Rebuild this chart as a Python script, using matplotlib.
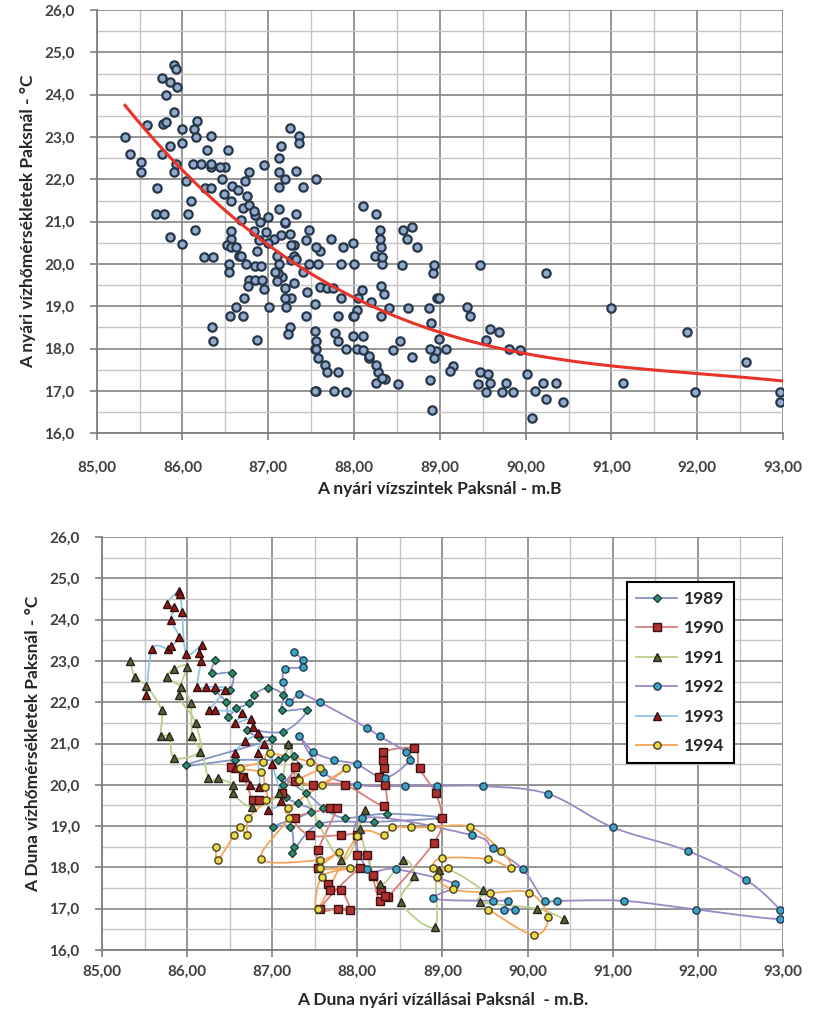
import numpy as np
import matplotlib
matplotlib.use('Agg')
import matplotlib.pyplot as plt
from matplotlib.ticker import MultipleLocator, FuncFormatter
from matplotlib.lines import Line2D

# Nyári vízállás (m.B.) és vízhőmérséklet (°C) Paksnál, évenként
x_1989 = [86.33, 86.29, 86.53, 86.50, 86.33, 86.46, 86.48, 86.58, 86.73, 86.78, 86.95,
          87.13, 87.12, 87.41, 87.13, 86.70, 86.85, 87.00, 85.99, 86.56, 87.07, 87.15,
          87.19, 87.25, 87.30, 87.13, 87.16, 87.30, 87.45, 87.01, 87.21, 87.25, 87.23,
          87.55, 88.20, 88.97, 88.35, 87.85, 87.60, 87.40, 87.10]
y_1989 = [23.02, 22.70, 22.70, 22.30, 22.30, 22.00, 21.65, 21.85, 21.97, 22.17, 22.35,
          22.17, 21.81, 21.81, 21.29, 21.33, 21.16, 21.10, 20.48, 20.60, 20.60, 20.68,
          20.96, 20.70, 20.45, 20.00, 19.70, 19.55, 19.35, 18.99, 18.99, 18.50, 18.35,
          19.05, 19.10, 19.20, 19.30, 19.20, 19.45, 19.80, 20.20]

x_1990 = [86.52, 86.66, 86.77, 86.85, 87.11, 87.27, 87.27, 87.48, 87.85, 88.31, 88.32,
          88.25, 88.31, 88.30, 88.30, 88.67, 88.73, 88.92, 88.99, 88.90, 88.36, 88.26,
          88.18, 88.11, 87.99, 87.99, 87.81, 87.44, 87.27, 87.68, 87.76, 87.54, 87.54,
          87.66, 87.68, 87.81, 87.91, 87.77, 87.56, 88.03, 88.18, 88.28, 88.33]
y_1990 = [20.44, 20.20, 19.63, 19.63, 19.79, 20.44, 20.10, 20.00, 20.00, 19.49, 20.00,
          20.20, 20.40, 20.60, 20.80, 20.88, 20.40, 19.79, 19.19, 18.60, 17.29, 17.19,
          17.79, 18.30, 18.30, 18.78, 18.78, 18.78, 19.19, 19.43, 19.43, 18.42, 17.98,
          17.61, 17.45, 17.45, 16.98, 17.00, 17.00, 17.98, 17.82, 17.45, 17.30]

x_1991 = [85.33, 85.39, 85.52, 85.70, 85.69, 85.79, 85.85, 86.15, 86.06, 86.04, 85.93,
          85.76, 85.85, 86.00, 85.90, 86.10, 86.25, 86.36, 86.54, 86.54, 86.76, 87.08,
          87.19, 87.30, 87.81, 88.09, 88.03, 88.26, 88.54, 88.67, 88.51, 88.91, 88.96,
          89.47, 89.44, 90.11, 90.43]
y_1991 = [23.00, 22.60, 22.40, 21.80, 21.19, 21.19, 20.65, 20.80, 21.19, 21.97, 22.37,
          22.60, 22.80, 22.86, 22.17, 21.50, 20.16, 20.16, 20.00, 19.80, 19.47, 19.80,
          21.00, 20.20, 18.18, 19.39, 18.92, 17.61, 18.18, 17.80, 17.17, 16.56, 17.94,
          17.45, 17.17, 17.00, 16.75]

x_1992 = [87.25, 87.36, 87.36, 87.15, 87.13, 87.20, 87.32, 87.56, 88.11, 88.26, 88.57,
          88.62, 88.32, 87.99, 87.73, 87.48, 87.32, 87.60, 88.00, 88.56, 88.93, 89.47,
          90.24, 91.00, 91.88, 92.57, 92.96, 92.96, 91.98, 91.13, 90.35, 90.20, 89.94,
          89.59, 89.35, 88.05, 88.11, 88.45, 89.15, 88.89, 89.59, 89.77, 89.72, 89.85]
y_1992 = [23.22, 23.02, 22.85, 22.80, 22.50, 22.00, 22.20, 22.00, 21.38, 21.18, 20.80,
          20.60, 20.17, 20.50, 20.60, 20.80, 21.19, 20.30, 20.00, 19.97, 19.97, 19.97,
          19.78, 18.97, 18.40, 17.69, 16.98, 16.75, 16.98, 17.19, 17.19, 17.19, 17.96,
          18.46, 18.78, 19.19, 17.96, 17.96, 17.59, 17.25, 17.19, 17.19, 16.98, 16.98]

x_1993 = [85.52, 85.59, 85.77, 85.81, 85.90, 85.81, 85.85, 85.76, 85.90, 85.92, 85.94,
          85.99, 86.17, 86.14, 86.16, 86.12, 86.22, 86.33, 86.44, 86.26, 86.33, 86.65,
          86.56, 86.75, 86.77, 86.83, 86.68, 86.56, 86.56, 86.68, 86.74, 86.85, 86.83,
          86.90, 87.00, 87.10, 86.95]
y_1993 = [22.17, 23.29, 23.30, 23.35, 23.59, 24.00, 24.30, 24.39, 24.70, 24.62, 24.19,
          23.18, 23.38, 23.20, 23.00, 22.37, 22.37, 22.37, 22.30, 21.80, 21.80, 21.75,
          21.50, 21.60, 21.40, 21.25, 21.05, 20.77, 20.40, 20.20, 20.00, 19.95, 20.78,
          21.00, 20.50, 19.60, 19.40]

x_1994 = [86.34, 86.36, 86.55, 86.62, 86.70, 86.72, 86.93, 86.91, 86.87, 86.62, 86.89,
          86.97, 87.44, 87.56, 87.32, 87.58, 87.87, 87.19, 87.20, 86.87, 87.56, 87.78,
          87.56, 87.91, 87.58, 87.54, 88.00, 88.31, 88.41, 88.63, 88.87, 89.32, 89.69,
          89.81, 89.54, 88.99, 88.89, 89.07, 88.93, 89.12, 89.56, 90.02, 90.24, 90.07,
          89.54]
y_1994 = [18.50, 18.18, 18.78, 18.99, 18.78, 19.19, 19.63, 19.95, 20.30, 20.40, 20.56,
          20.76, 20.56, 20.40, 20.12, 20.00, 20.40, 19.43, 19.20, 18.20, 18.18, 18.38,
          17.98, 17.98, 17.77, 17.00, 18.76, 18.78, 18.97, 18.97, 18.97, 18.98, 18.40,
          17.98, 18.20, 18.22, 17.98, 17.98, 17.77, 17.47, 17.39, 17.39, 16.80, 16.36,
          16.98]

years = ['1989', '1990', '1991', '1992', '1993', '1994']
x_series = [x_1989, x_1990, x_1991, x_1992, x_1993, x_1994]
y_series = [y_1989, y_1990, y_1991, y_1992, y_1993, y_1994]

# harmadfokú trend a (vízszint - 85) függvényében
trend_coef = [-0.01735, 0.3670, -2.7484, 24.6176]
trend_x_range = [85.33, 93.0]

# vonal / jelölő stílusok évenként
styles = {
    '1989': dict(lc='#8594c6', m='D', fc='#2e8b72', ec='#1c3f36', ms=4.5),
    '1990': dict(lc='#d9807c', m='s', fc='#b0302e', ec='#3a1010', ms=5.2),
    '1991': dict(lc='#b9d08a', m='^', fc='#5a5f35', ec='#26261a', ms=5.6),
    '1992': dict(lc='#9c88c4', m='o', fc='#3ea3c3', ec='#1d3c52', ms=5.2),
    '1993': dict(lc='#8fc6e0', m='^', fc='#8a1c1c', ec='#3a0a0a', ms=5.6),
    '1994': dict(lc='#f3a65a', m='o', fc='#e9da45', ec='#4a4020', ms=5.2),
}

FONT = 'Lato'
TICK_COLOR = '#404040'


def smooth(xs, ys, steps=10):
    """Catmull-Rom görbe a pontokon át (az Excel simított vonalához hasonló)"""
    p = np.column_stack([xs, ys])
    p = np.vstack([p[0], p, p[-1]])
    t = np.linspace(0, 1, steps, endpoint=False)[:, None]
    parts = []
    for i in range(1, len(p) - 2):
        p0, p1, p2, p3 = p[i - 1], p[i], p[i + 1], p[i + 2]
        seg = 0.5 * (2 * p1 + (-p0 + p2) * t
                     + (2 * p0 - 5 * p1 + 4 * p2 - p3) * t ** 2
                     + (-p0 + 3 * p1 - 3 * p2 + p3) * t ** 3)
        parts.append(seg)
    parts.append(p[-2][None, :])
    arr = np.vstack(parts)
    return arr[:, 0], arr[:, 1]


def style_axes(ax, xlabel, ylabel, xpad, xlabelpad):
    ax.set_xlim(85, 93)
    ax.set_ylim(16, 26)
    ax.xaxis.set_major_locator(MultipleLocator(1))
    ax.xaxis.set_minor_locator(MultipleLocator(0.5))
    ax.yaxis.set_major_locator(MultipleLocator(1))
    ax.yaxis.set_minor_locator(MultipleLocator(0.5))
    ax.xaxis.set_major_formatter(FuncFormatter(lambda v, p: f'{v:.2f}'.replace('.', ',')))
    ax.yaxis.set_major_formatter(FuncFormatter(lambda v, p: f'{v:.1f}'.replace('.', ',')))
    ax.grid(True, which='major', color='#8c8c8c', linewidth=1.3)
    ax.grid(True, which='minor', color='#c4c4c4', linewidth=1.0)
    ax.set_axisbelow(True)
    for side in ('top', 'right'):
        ax.spines[side].set_visible(False)
    for side in ('left', 'bottom'):
        ax.spines[side].set_color('#7f7f7f')
        ax.spines[side].set_linewidth(1.3)
    ax.tick_params(which='major', direction='out', length=5, width=1.2, color='#7f7f7f',
                   labelsize=11, labelcolor=TICK_COLOR)
    ax.tick_params(axis='y', which='major', pad=11)
    ax.tick_params(axis='x', which='major', pad=xpad)
    ax.tick_params(which='minor', length=0)
    for lab in ax.get_xticklabels() + ax.get_yticklabels():
        lab.set_fontfamily(FONT)
        lab.set_fontweight('bold')
    ax.set_xlabel(xlabel, fontsize=12.5, fontweight='bold', family=FONT, color='#262626',
                  labelpad=xlabelpad)
    ax.set_ylabel(ylabel, fontsize=12.5, fontweight='bold', family=FONT, color='#262626',
                  labelpad=6)


fig = plt.figure(figsize=(8.18, 10.17), dpi=100)
ax1 = fig.add_axes([0.1182, 0.574, 0.839, 0.416])
ax2 = fig.add_axes([0.1247, 0.0659, 0.8325, 0.406])

# Felső ábra: összes nyári mérés + trendvonal
all_x = np.concatenate([np.asarray(x) for x in x_series])
all_y = np.concatenate([np.asarray(y) for y in y_series])
ax1.scatter(all_x, all_y, s=36, facecolor='#93aacb', edgecolor='#26364a',
            linewidth=1.6, zorder=3)
tx = np.linspace(trend_x_range[0], trend_x_range[1], 200)
ax1.plot(tx, np.polyval(trend_coef, tx - 85), color='#e8322a', linewidth=2.2, zorder=4)
style_axes(ax1, 'A nyári vízszintek Paksnál - m.B', 'A nyári vízhőmérsékletek Paksnál - °C',
           xpad=15, xlabelpad=4)

# Alsó ábra: évenkénti menetek simított vonallal
handles = []
for year, xs, ys in zip(years, x_series, y_series):
    st = styles[year]
    sx, sy = smooth(xs, ys)
    ax2.plot(sx, sy, color=st['lc'], linewidth=1.3, zorder=3)
    ax2.plot(xs, ys, linestyle='none', marker=st['m'], markersize=st['ms'],
             markerfacecolor=st['fc'], markeredgecolor=st['ec'], markeredgewidth=1.0, zorder=4)
    handles.append(Line2D([], [], color=st['lc'], linewidth=1.3, marker=st['m'],
                          markersize=st['ms'], markerfacecolor=st['fc'],
                          markeredgecolor=st['ec'], markeredgewidth=1.0))
style_axes(ax2, 'A Duna nyári vízállásai Paksnál  - m.B.', 'A Duna vízhőmérsékletek Paksnál - °C',
           xpad=6, xlabelpad=9)

leg = ax2.legend(handles, years, loc='upper left', bbox_to_anchor=(0.771, 0.891),
                 borderaxespad=0, frameon=True, fancybox=False, framealpha=1,
                 edgecolor='black', prop={'family': FONT, 'weight': 'bold', 'size': 12.5},
                 handlelength=2.4, labelspacing=0.78, borderpad=0.5, handletextpad=0.4)
leg.get_frame().set_linewidth(1.5)
for t in leg.get_texts():
    t.set_color('#262626')
leg.set_zorder(10)

fig.savefig('out.png', dpi=100)
